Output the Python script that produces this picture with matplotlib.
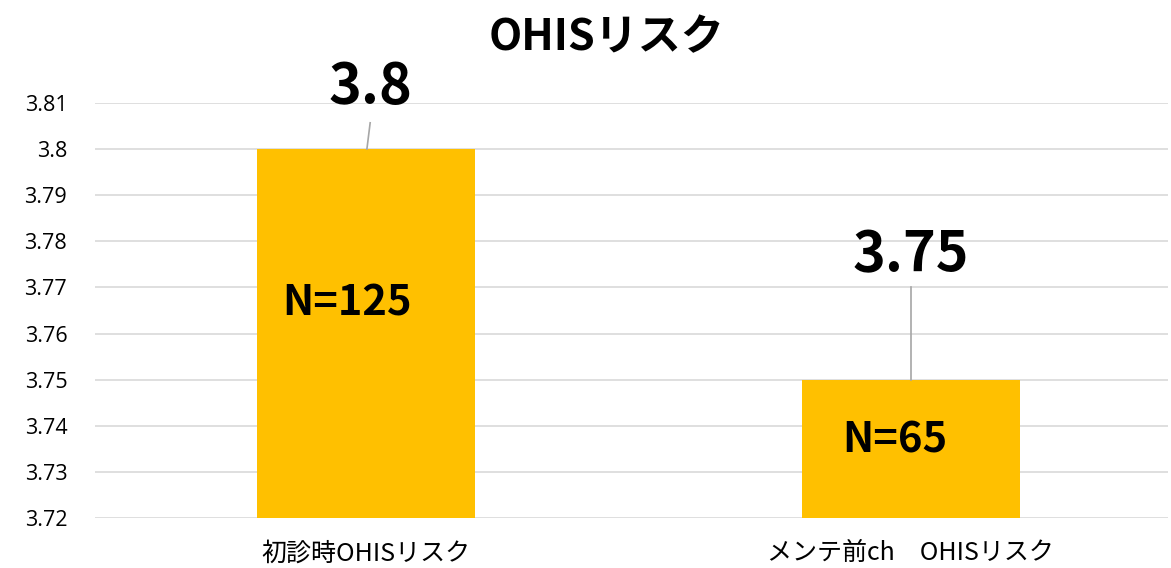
import matplotlib
matplotlib.use("Agg")
import matplotlib.pyplot as plt

plt.rcParams['font.family'] = ['Noto Sans CJK JP', 'DejaVu Sans']

# data
categories = ["初診時OHISリスク", "メンテ前ch　OHISリスク"]
values = [3.8, 3.75]
n_labels = ["N=125", "N=65"]
value_labels = ["3.8", "3.75"]
yticks = [3.72, 3.73, 3.74, 3.75, 3.76, 3.77, 3.78, 3.79, 3.8, 3.81]
ytick_labels = ["3.72", "3.73", "3.74", "3.75", "3.76", "3.77", "3.78", "3.79", "3.8", "3.81"]

fig = plt.figure(figsize=(11.71, 5.68), dpi=100)
ax = fig.add_axes([0.0811, 0.088, 0.9163, 0.7307])

x = range(len(categories))
ax.bar(x, values, width=0.4, color="#FFC000", zorder=2)

ax.set_ylim(3.72, 3.81)
ax.set_xlim(-0.497, 1.472)
ax.set_yticks(yticks)
ax.set_yticklabels(ytick_labels, fontsize=15.5, family=['Open Sans', 'DejaVu Sans'])
ax.set_xticks(list(x))
ax.set_xticklabels(categories, fontsize=18)
ax.tick_params(axis='both', length=0)
ax.tick_params(axis='x', pad=16)
ax.tick_params(axis='y', pad=20)
ax.yaxis.grid(True, color="#D9D9D9", linewidth=1.2, zorder=0)
ax.set_axisbelow(True)
for s in ax.spines.values():
    s.set_visible(False)

# value labels with leader lines
label_pos = [(0.008, 3.8135), (0.0, 3.7769)]
line_pos = [((0.008, 3.8057), (0.002, 3.8)), ((0.0, 3.7700), (0.0, 3.75))]
for i, v in enumerate(values):
    dx, ty = label_pos[i]
    ax.text(i + dx, ty, value_labels[i], ha="center", va="center",
            fontsize=40, fontweight="bold", clip_on=False)
    (x0, y0), (x1, y1) = line_pos[i]
    ax.plot([i + x0, i + x1], [y0, y1], color="#A6A6A6", linewidth=1.2,
            zorder=3, clip_on=False)

# N labels inside bars
n_pos = [(-0.035, 3.7665), (-0.029, 3.7368)]
for i, lab in enumerate(n_labels):
    dx, ty = n_pos[i]
    ax.text(i + dx, ty, lab, ha="center", va="center", fontsize=30,
            fontweight="bold", color="black", zorder=4)

fig.text(0.518, 0.935, "OHISリスク", ha="center", va="center",
         fontsize=31, fontweight="bold")

fig.savefig("out.png", dpi=100)
